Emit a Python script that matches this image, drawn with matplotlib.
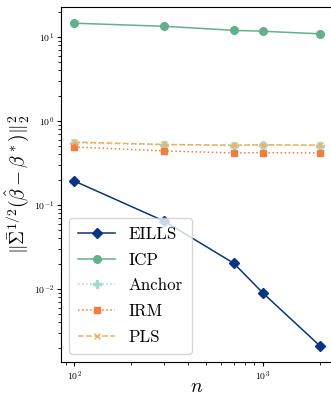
import numpy as np
import matplotlib
matplotlib.use('Agg')
import matplotlib.pyplot as plt

plt.rcParams['mathtext.fontset'] = 'cm'
plt.rcParams['font.family'] = 'serif'
plt.rcParams['font.serif'] = ['cmr10']
plt.rcParams['axes.formatter.use_mathtext'] = True

n = [100, 300, 700, 1000, 2000]
eills = [0.193, 0.064, 0.0202, 0.0089, 0.0021]
icp = [14.6, 13.4, 12.0, 11.7, 10.9]
anchor = [0.55, 0.52, 0.51, 0.515, 0.51]
irm = [0.49, 0.44, 0.416, 0.42, 0.416]
pls = [0.56, 0.525, 0.515, 0.52, 0.515]

fig = plt.figure(figsize=(3.31, 3.96), dpi=100)
ax = fig.add_axes([61/331, 34/396, 271/331, 355/396])

ax.plot(n, eills, color='#08357f', marker='D', ms=5, lw=1.1, label='EILLS')
ax.plot(n, icp, color='#63b08c', marker='o', ms=5.5, lw=1.1, label='ICP')
ax.plot(n, anchor, color='#a3d9cf', marker='P', ms=5.5, lw=1.1, ls=':', label='Anchor')
ax.plot(n, irm, color='#f07f3c', marker='s', ms=5, lw=1.1, ls=':', label='IRM')
ax.plot(n, pls, color='#f0b060', marker='x', ms=5, lw=1.1, ls='--', label='PLS')

ax.set_xscale('log')
ax.set_yscale('log')
ax.set_xlim(10**1.93, 10**3.365)
ax.set_ylim(10**-2.87, 10**1.357)
ax.tick_params(labelsize=7, length=3, pad=2)
ax.tick_params(which='minor', length=2)
ax.set_xlabel('$n$', fontsize=14, labelpad=-3)
ax.set_ylabel(r'$\|\bar{\Sigma}^{1/2}(\hat{\beta}-\beta^*)\|_2^2$', fontsize=14, labelpad=2)
ax.legend(loc='lower left', fontsize=12.2, handlelength=2.2, borderpad=0.5,
          labelspacing=0.62, handletextpad=0.8)

fig.savefig('out.png', dpi=100)
